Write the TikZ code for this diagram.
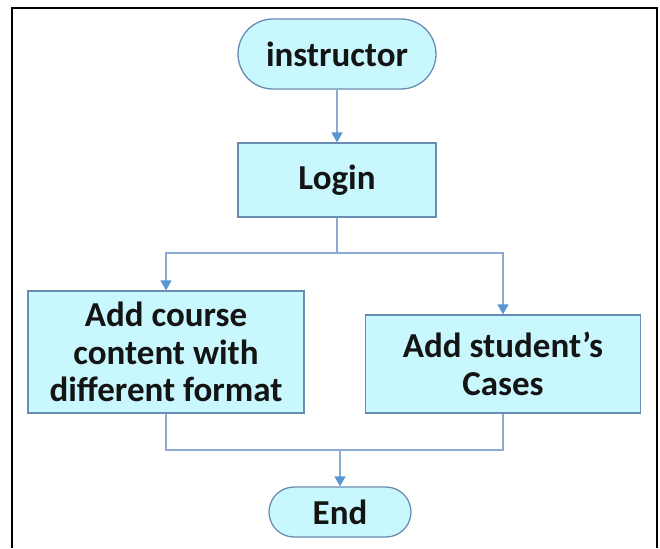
\documentclass[tikz,border=0pt]{standalone}
\usepackage{fontspec}
\setmainfont{Carlito}
\usetikzlibrary{arrows.meta}
\definecolor{boxfill}{RGB}{200,248,253}
\definecolor{boxline}{RGB}{105,140,178}
\definecolor{conn}{RGB}{140,170,212}
\definecolor{tipcol}{RGB}{88,150,210}
\tikzset{
  x=1pt, y=-1pt,
  base/.style={draw=boxline, fill=boxfill, line width=1.3pt, inner sep=0pt, align=center,
    font=\fontsize{35}{37.5}\selectfont\bfseries, text=black!92},
  terminal/.style={base},
  procbox/.style={base},
  conline/.style={draw=conn, line width=1.4pt},
  arr/.style={conline, -{Triangle[width=11pt,length=10pt,fill=tipcol,color=tipcol]}}
}
\begin{document}
\begin{tikzpicture}
\useasboundingbox (0,0) rectangle (660,548);
\draw[line width=2pt, black] (12,548) -- (12,8) -- (657,8) -- (657,548);

\node[terminal, minimum width=198pt, minimum height=70pt, rounded corners=35pt] (instr) at (337,54) {instructor};
\node[procbox, minimum width=198pt, minimum height=74pt] (login) at (337,180) {Login};
\node[procbox, minimum width=276pt, minimum height=122pt] (left) at (166,352) {Add course\\content with\\different format};
\node[procbox, minimum width=275pt, minimum height=98pt] (right) at (503,364) {Add student’s\\Cases};
\node[terminal, minimum width=142pt, minimum height=50pt, rounded corners=25pt] (end) at (340,512) {End};

\coordinate (split) at (337,253);
\coordinate (join) at (340,450);

\draw[arr] (instr) -- (login);
\draw[conline] (login) -- (split);
\draw[arr] (split) -| (left);
\draw[arr] (split) -| (right);
\draw[conline] (left.south) |- (join);
\draw[conline] (right.south) |- (join);
\draw[arr] (join) -- (end);
\end{tikzpicture}
\end{document}
